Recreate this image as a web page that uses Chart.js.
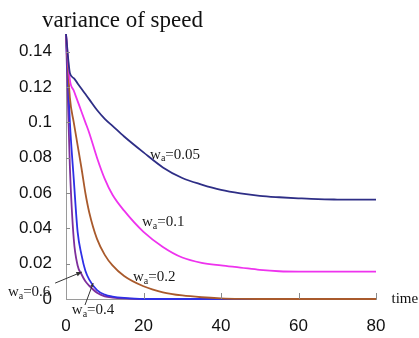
<!DOCTYPE html>
<html>
<head>
<meta charset="utf-8">
<script src="https://cdn.jsdelivr.net/npm/chart.js@4"></script>
<style>
  html, body { margin: 0; background: #fff; }
  #wrap { width: 419px; height: 338px; }
</style>
</head>
<body>
<div id="wrap"><canvas id="speedVariance" width="419" height="338"></canvas></div>
<script>
// time samples (x) and variance of speed for each w_a
const times  = [0, 1, 2, 3, 4, 5, 6, 8, 10, 12, 15, 20, 25, 30, 35, 40, 45, 50, 55, 60, 65, 70, 75, 80];
const wa005  = [0.15, 0.128, 0.125, 0.122, 0.119, 0.116, 0.113, 0.107, 0.102, 0.098, 0.092, 0.083, 0.0745, 0.0685, 0.0648, 0.0618, 0.0598, 0.0584, 0.0576, 0.0570, 0.0565, 0.0563, 0.0562, 0.0562];
const wa01   = [0.15, 0.124, 0.118, 0.112, 0.106, 0.100, 0.094, 0.080, 0.068, 0.059, 0.050, 0.038, 0.0295, 0.0235, 0.0205, 0.019, 0.0178, 0.0165, 0.0157, 0.0155, 0.0155, 0.0155, 0.0155, 0.0155];
const wa02   = [0.15, 0.114, 0.100, 0.087, 0.074, 0.060, 0.049, 0.034, 0.025, 0.019, 0.013, 0.0072, 0.0038, 0.002, 0.001, 0.0004, 0.0001, 0, 0, 0, 0, 0, 0, 0];
const wa04   = [0.15, 0.100, 0.068, 0.038, 0.025, 0.016, 0.011, 0.005, 0.0025, 0.0014, 0.0006, 0, 0, 0, 0, 0, 0, 0, 0, 0, 0, 0, 0, 0];
const wa06   = [0.15, 0.075, 0.034, 0.019, 0.014, 0.010, 0.0075, 0.0035, 0.0015, 0.0008, 0.0003, 0, 0, 0, 0, 0, 0, 0, 0, 0, 0, 0, 0, 0];

const seriesNames = ['0.05', '0.1', '0.2', '0.4', '0.6'];
const seriesData  = [wa005, wa01, wa02, wa04, wa06];
const colors      = ['#2e2e86', '#ee33ee', '#a95a2c', '#2f2fe6', '#7e2f9c'];

const xTicks = [0, 20, 40, 60, 80];
const yTicks = [0, 0.02, 0.04, 0.06, 0.08, 0.1, 0.12, 0.14];

// where the in-plot labels sit (data coordinates)
const labelAnchors = [
    {name: '0.05', x: 21.7, y: 0.0816},
    {name: '0.1',  x: 19.6, y: 0.0436},
    {name: '0.2',  x: 17.3, y: 0.0125},
    {name: '0.6',  x: -15.0, y: 0.0040},
    {name: '0.4',  x: 1.5,  y: -0.0062}
];

const datasets = seriesNames.map((name, i) => ({
    label: 'w_a=' + name,
    data: times.map((t, j) => ({x: t, y: seriesData[i][j]})),
    borderColor: colors[i],
    borderWidth: 1.8,
    pointRadius: 0,
    cubicInterpolationMode: 'monotone',
    clip: false
}));

function drawWa(ctx, name, px, py) {
    ctx.fillStyle = '#1a1a1a';
    ctx.textBaseline = 'middle';
    ctx.textAlign = 'left';
    ctx.font = '15px "Liberation Serif"';
    ctx.fillText('w', px, py);
    let w = ctx.measureText('w').width;
    ctx.font = '10px "Liberation Serif"';
    ctx.fillText('a', px + w, py + 4);
    w += ctx.measureText('a').width;
    ctx.font = '15px "Liberation Serif"';
    ctx.fillText('=' + name, px + w, py);
}

function arrow(ctx, x1, y1, x2, y2, head) {
    ctx.strokeStyle = '#333';
    ctx.fillStyle = '#333';
    ctx.lineWidth = 1;
    ctx.beginPath();
    ctx.moveTo(x1, y1);
    ctx.lineTo(x2, y2);
    ctx.stroke();
    const a = Math.atan2(y2 - y1, x2 - x1);
    ctx.beginPath();
    ctx.moveTo(x2, y2);
    ctx.lineTo(x2 - head * Math.cos(a - 0.4), y2 - head * Math.sin(a - 0.4));
    ctx.lineTo(x2 - head * Math.cos(a + 0.4), y2 - head * Math.sin(a + 0.4));
    ctx.closePath();
    ctx.fill();
}

const extras = {
    id: 'extras',
    afterDraw(chart) {
        const {ctx, scales: {x, y}} = chart;
        ctx.save();

        // inward tick marks
        ctx.strokeStyle = '#8a8a8a';
        ctx.lineWidth = 1;
        yTicks.forEach(v => {
            if (v === 0) return;
            const py = Math.round(y.getPixelForValue(v)) + 0.5;
            ctx.beginPath();
            ctx.moveTo(x.left, py);
            ctx.lineTo(x.left + 4, py);
            ctx.stroke();
        });
        xTicks.forEach(v => {
            if (v === 0) return;
            const px = Math.round(x.getPixelForValue(v)) + 0.5;
            ctx.beginPath();
            ctx.moveTo(px, y.bottom);
            ctx.lineTo(px, y.bottom - 6);
            ctx.stroke();
        });

        // title
        ctx.fillStyle = '#111';
        ctx.font = '23px "Liberation Serif"';
        ctx.textBaseline = 'alphabetic';
        ctx.textAlign = 'left';
        ctx.fillText('variance of speed', 42, 27);

        // axis name
        ctx.font = '15px "Liberation Serif"';
        ctx.textBaseline = 'middle';
        ctx.fillText('time', x.getPixelForValue(84), y.getPixelForValue(0));

        labelAnchors.forEach(l => {
            drawWa(ctx, l.name, x.getPixelForValue(l.x), y.getPixelForValue(l.y));
        });

        // pointers to the two fast curves
        arrow(ctx, x.getPixelForValue(-2.8), y.getPixelForValue(0.009),
                   x.getPixelForValue(4.1), y.getPixelForValue(0.0153), 6);
        arrow(ctx, x.getPixelForValue(4.9), y.getPixelForValue(-0.0034),
                   x.getPixelForValue(7.0), y.getPixelForValue(0.0090), 4);

        ctx.restore();
    }
};

const ctx = document.getElementById('speedVariance').getContext('2d');
new Chart(ctx, {
    type: 'line',
    data: {datasets: datasets},
    options: {
        responsive: false,
        animation: false,
        layout: {padding: {left: 0, right: 43, top: 34, bottom: 0}},
        plugins: {legend: {display: false}, tooltip: {enabled: false}},
        scales: {
            x: {
                type: 'linear',
                min: 0,
                max: 80,
                afterBuildTicks: s => { s.ticks = xTicks.map(v => ({value: v})); },
                afterFit: s => { s.height = 39; },
                grid: {display: false, drawTicks: false},
                border: {display: true, color: '#9a9a9a', width: 1},
                ticks: {
                    padding: 17,
                    maxRotation: 0,
                    color: '#111',
                    font: {family: '"Liberation Sans", Arial', size: 17},
                    callback: v => String(v)
                }
            },
            y: {
                type: 'linear',
                min: 0,
                max: 0.15,
                afterBuildTicks: s => { s.ticks = yTicks.map(v => ({value: v})); },
                afterFit: s => { s.width = 66; },
                grid: {display: false, drawTicks: false},
                border: {display: true, color: '#9a9a9a', width: 1},
                ticks: {
                    padding: 14,
                    color: '#111',
                    font: {family: '"Liberation Sans", Arial', size: 17},
                    callback: v => String(v)
                }
            }
        }
    },
    plugins: [extras]
});
</script>
</body>
</html>
